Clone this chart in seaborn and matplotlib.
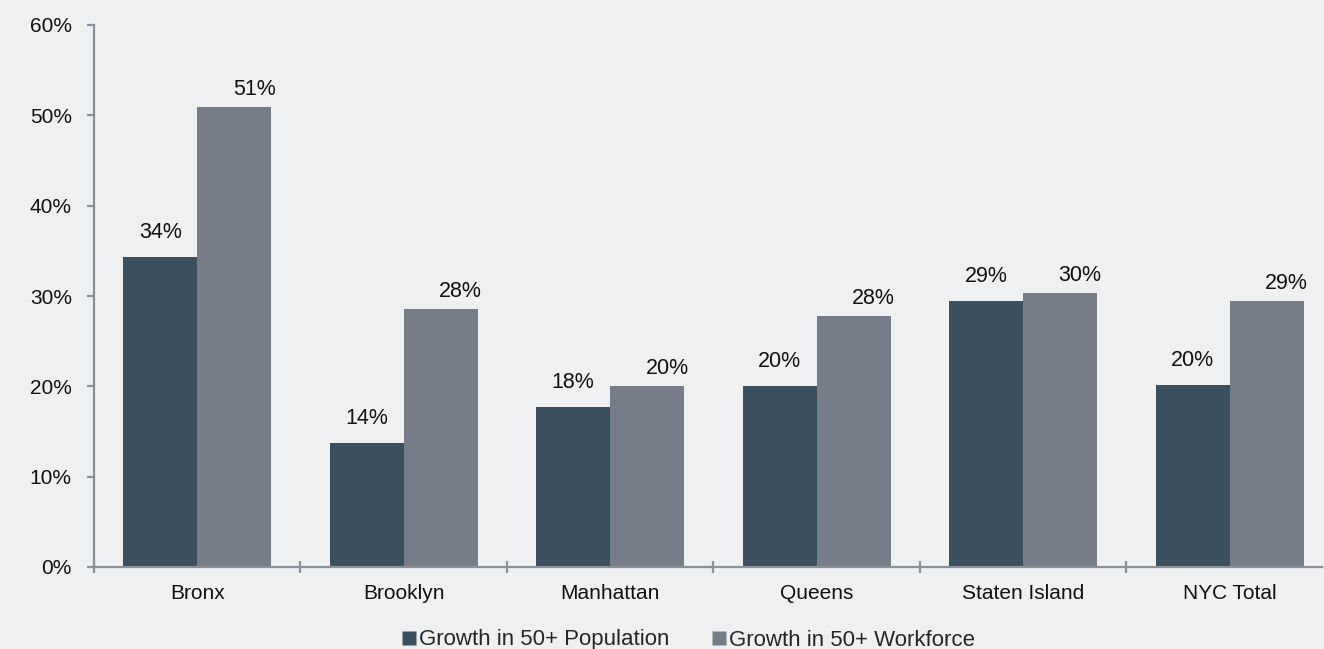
import matplotlib
matplotlib.use("Agg")
import matplotlib.pyplot as plt
import seaborn as sns
import pandas as pd
from matplotlib.lines import Line2D

categories = ["Bronx", "Brooklyn", "Manhattan", "Queens", "Staten Island", "NYC Total"]
series_names = ["Growth in 50+ Population", "Growth in 50+ Workforce"]
population = [34.3, 13.7, 17.7, 20.0, 29.4, 20.2]
workforce = [50.9, 28.6, 20.0, 27.8, 30.3, 29.4]
pop_labels = ["34%", "14%", "18%", "20%", "29%", "20%"]
work_labels = ["51%", "28%", "20%", "28%", "30%", "29%"]
yticks = [0, 10, 20, 30, 40, 50, 60]
ytick_labels = ["0%", "10%", "20%", "30%", "40%", "50%", "60%"]

colors = ["#3A505E", "#777D88"]
bg = "#EFF0F2"
axis_col = "#8A919B"

df = pd.DataFrame({
    "Borough": categories * 2,
    "Series": [series_names[0]] * len(categories) + [series_names[1]] * len(categories),
    "Value": population + workforce,
})

sns.set_theme(style="white")
plt.rcParams["font.family"] = ["Liberation Sans", "DejaVu Sans"]

W, H = 1324, 649
fig = plt.figure(figsize=(W / 100, H / 100), dpi=100, facecolor=bg)
ax = fig.add_axes([94 / W, 82 / H, (1322 - 94) / W, 542 / H])
ax.set_facecolor(bg)

sns.barplot(data=df, x="Borough", y="Value", hue="Series", order=categories,
            hue_order=series_names, palette=colors, width=0.717, saturation=1,
            ax=ax, legend=False, edgecolor="none", linewidth=0)

ax.set_yticks(yticks)
ax.set_yticklabels(ytick_labels)
ax.set_xlabel("")
ax.set_ylabel("")

for s in ["top", "right"]:
    ax.spines[s].set_visible(False)
for s in ["left", "bottom"]:
    ax.spines[s].set_color(axis_col)
    ax.spines[s].set_linewidth(1.6)

ax.tick_params(axis="y", which="major", direction="out", length=5, width=1.6,
               color=axis_col, labelsize=15, labelcolor="#111111", pad=11, left=True)
ax.set_xticks(range(len(categories)))
ax.set_xticklabels(categories)
ax.tick_params(axis="x", which="major", length=0, labelsize=15,
               labelcolor="#111111", pad=12)
ax.set_xticks([i - 0.5 for i in range(len(categories) + 1)], minor=True)
ax.tick_params(axis="x", which="minor", direction="inout", length=8, width=1.6,
               color=axis_col, bottom=True)

ax.set_ylim(0, 60)
ax.set_xlim(-0.5, 5.447)

label_sets = [(pop_labels, 0, 14), (work_labels, 20, 7)]
for cont, (labs, dx, dy) in zip(ax.containers, label_sets):
    for bar, lab in zip(cont, labs):
        x = bar.get_x() + bar.get_width() / 2
        y = bar.get_height()
        ax.annotate(lab, (x, y), xytext=(dx, dy), textcoords="offset pixels",
                    ha="center", va="bottom", fontsize=15.5, color="#111111")

handles = [Line2D([0], [0], marker="s", linestyle="none", markersize=10,
                  markerfacecolor=c, markeredgecolor="none") for c in colors]
fig.legend(handles, series_names, loc="center", bbox_to_anchor=(0.5 + 26 / W, 9 / H),
           ncol=2, frameon=False, fontsize=16, handletextpad=0.1,
           columnspacing=1.9, handlelength=0.7, borderaxespad=0)

fig.savefig("out.png", dpi=100, facecolor=bg)
